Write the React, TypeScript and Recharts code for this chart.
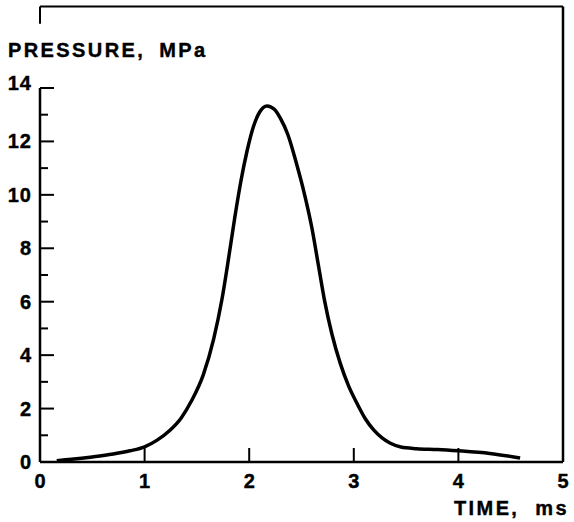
import { LineChart, Line, XAxis, YAxis, ReferenceLine } from "recharts";

// pressure trace
const TIME_MS = [
  0.16, 0.3, 0.5, 0.7, 0.86, 1.0, 1.12, 1.24, 1.35, 1.45, 1.56, 1.66, 1.74,
  1.8, 1.86, 1.92, 1.98, 2.04, 2.1, 2.17, 2.24, 2.3, 2.37, 2.45, 2.53, 2.6,
  2.66, 2.72, 2.79, 2.87, 2.95, 3.03, 3.11, 3.19, 3.27, 3.35, 3.45, 3.6, 3.8,
  4.0, 4.3, 4.59,
];
const PRESSURE_MPA = [
  0.05, 0.1, 0.19, 0.3, 0.42, 0.57, 0.82, 1.18, 1.65, 2.3, 3.25, 4.6, 6.1,
  7.55, 9.1, 10.5, 11.65, 12.55, 13.1, 13.33, 13.2, 12.85, 12.25, 11.2, 10.0,
  8.75, 7.4, 6.05, 4.8, 3.7, 2.85, 2.2, 1.62, 1.2, 0.9, 0.7, 0.56, 0.5, 0.47,
  0.42, 0.32, 0.15,
];
const X_TICKS = [0, 1, 2, 3, 4, 5];
const Y_TICKS = [0, 1, 2, 3, 4, 5, 6, 7, 8, 9, 10, 11, 12, 13, 14];
const Y_TOP = 17.05; // frame sits above the last tick

const FONT = '"Liberation Sans", Arial, Helvetica, sans-serif';

const data = TIME_MS.map((t, i) => ({ time: t, pressure: PRESSURE_MPA[i] }));

function YTick(props: any) {
  const { x, y, payload } = props;
  const v = payload.value as number;
  const major = v % 2 === 0;
  return (
    <g>
      <line x1={x} x2={x + (major ? 14 : 8)} y1={y} y2={y} stroke="#000" strokeWidth={2} />
      {major && (
        <text
          x={x - 8}
          y={v === 14 ? y - 5 : y}
          dy={7}
          textAnchor="end"
          fontFamily={FONT}
          fontWeight={700}
          fontSize={20}
          letterSpacing={1}
          stroke="#000"
          strokeWidth={0.4}
          fill="#000"
        >
          {v}
        </text>
      )}
    </g>
  );
}

function XTick(props: any) {
  const { x, y, payload } = props;
  const v = payload.value as number;
  const inner = v > 0 && v < 5;
  return (
    <g>
      {inner && <line x1={x} x2={x} y1={y} y2={y - 14} stroke="#000" strokeWidth={2} />}
      <text
        x={x}
        y={y + 26}
        textAnchor="middle"
        fontFamily={FONT}
        fontWeight={700}
        fontSize={20}
        stroke="#000"
        strokeWidth={0.4}
        fill="#000"
      >
        {v}
      </text>
    </g>
  );
}

export default function App() {
  return (
    <div style={{ position: "absolute", left: 0, top: 0, width: 574, height: 522, background: "#fff" }}>
      <LineChart
        width={574}
        height={522}
        data={data}
        margin={{ top: 6.5, right: 11, bottom: 0, left: 0 }}
      >
        <XAxis
          type="number"
          dataKey="time"
          domain={[0, 5]}
          ticks={X_TICKS}
          interval={0}
          height={60}
          tickSize={0}
          tickMargin={0}
          tickLine={false}
          axisLine={{ stroke: "#000", strokeWidth: 2.5 }}
          tick={<XTick />}
        />
        <YAxis
          type="number"
          domain={[0, Y_TOP]}
          allowDataOverflow
          ticks={Y_TICKS}
          interval={0}
          width={40}
          tickSize={0}
          tickMargin={0}
          tickLine={false}
          axisLine={false}
          tick={<YTick />}
        />
        <ReferenceLine
          segment={[{ x: 0, y: 0 }, { x: 0, y: 14 }]}
          stroke="#000"
          strokeWidth={2.5}
        />
        <ReferenceLine
          segment={[{ x: 0, y: Y_TOP }, { x: 0, y: Y_TOP - 0.65 }]}
          stroke="#000"
          strokeWidth={2}
        />
        <ReferenceLine y={Y_TOP} stroke="#000" strokeWidth={2} />
        <ReferenceLine x={5} stroke="#000" strokeWidth={2.5} />
        <Line
          type="monotone"
          dataKey="pressure"
          stroke="#000"
          strokeWidth={3.5}
          dot={false}
          isAnimationActive={false}
        />
      </LineChart>
      <svg
        width={574}
        height={522}
        style={{ position: "absolute", left: 0, top: 0, pointerEvents: "none" }}
      >
        <text
          x={8}
          y={57}
          fontFamily={FONT}
          fontWeight={700}
          fontSize={20}
          letterSpacing={2.4}
          wordSpacing={6}
          stroke="#000"
          strokeWidth={0.4}
          fill="#000"
        >
          PRESSURE, MPa
        </text>
        <text
          x={454}
          y={515}
          fontFamily={FONT}
          fontWeight={700}
          fontSize={20}
          letterSpacing={2.4}
          wordSpacing={8}
          stroke="#000"
          strokeWidth={0.4}
          fill="#000"
        >
          TIME, ms
        </text>
      </svg>
    </div>
  );
}
